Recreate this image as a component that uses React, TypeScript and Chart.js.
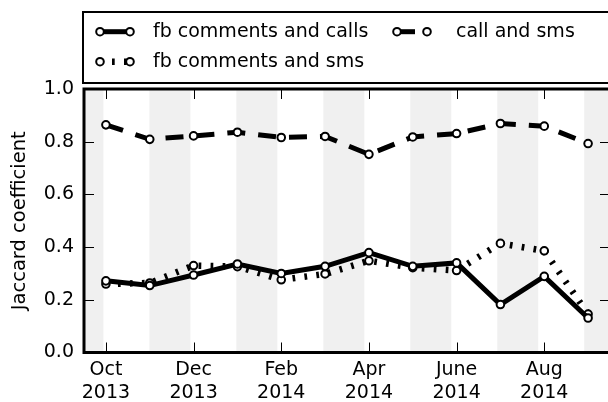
import React, { useEffect, useRef } from "react";
import { Chart, registerables } from "chart.js";

Chart.register(...registerables);

// ---- data ----
const months = [
  "Oct 2013", "Nov 2013", "Dec 2013", "Jan 2014", "Feb 2014", "Mar 2014",
  "Apr 2014", "May 2014", "Jun 2014", "Jul 2014", "Aug 2014", "Sep 2014",
];
const fbCommentsAndCalls = [0.272, 0.254, 0.294, 0.336, 0.300, 0.327, 0.379, 0.327, 0.340, 0.182, 0.289, 0.131];
const callAndSms = [0.864, 0.809, 0.822, 0.836, 0.816, 0.820, 0.752, 0.818, 0.831, 0.869, 0.859, 0.793];
const fbCommentsAndSms = [0.260, 0.264, 0.330, 0.326, 0.276, 0.298, 0.348, 0.322, 0.311, 0.414, 0.386, 0.146];

const seriesLabels = ["fb comments and calls", "call and sms", "fb comments and sms"];
const xTickValues = [0, 2, 4, 6, 8, 10];
const xTickLabels = [
  ["Oct", "2013"], ["Dec", "2013"], ["Feb", "2014"],
  ["Apr", "2014"], ["June", "2014"], ["Aug", "2014"],
];
const yTickValues = [0, 0.2, 0.4, 0.6, 0.8, 1.0];
const shadedMonthStarts = [-1, 1, 3, 5, 7, 9, 11];
const yTitle = "Jaccard coefficient";

const FONT = "'DejaVu Sans', sans-serif";

const toPoints = (vals: number[]) => vals.map((v, i) => ({ x: i, y: v }));

const bandsPlugin = {
  id: "bands",
  beforeDatasetsDraw(chart: any) {
    const { ctx, chartArea: a, scales } = chart;
    const x = scales.x;
    ctx.save();
    ctx.beginPath();
    ctx.rect(a.left, a.top, a.right - a.left, a.bottom - a.top);
    ctx.clip();
    ctx.fillStyle = "#f0f0f0";
    for (const k of shadedMonthStarts) {
      const s = k * 0.992;
      const x0 = x.getPixelForValue(s);
      const x1 = x.getPixelForValue(s + 0.935);
      ctx.fillRect(x0, a.top, x1 - x0, a.bottom - a.top);
    }
    ctx.restore();
  },
};

const framePlugin = {
  id: "frame",
  afterDraw(chart: any) {
    const { ctx, chartArea: a, scales } = chart;
    const x = scales.x;
    const y = scales.y;
    ctx.save();
    // inward ticks
    ctx.strokeStyle = "#000";
    ctx.lineWidth = 1;
    ctx.setLineDash([]);
    ctx.beginPath();
    for (const v of xTickValues) {
      const px = Math.round(x.getPixelForValue(v)) + 0.5;
      ctx.moveTo(px, a.bottom);
      ctx.lineTo(px, a.bottom - 10);
      ctx.moveTo(px, a.top);
      ctx.lineTo(px, a.top + 10);
    }
    for (const v of yTickValues) {
      const py = Math.round(y.getPixelForValue(v)) + 0.5;
      ctx.moveTo(a.left, py);
      ctx.lineTo(a.left + 10, py);
      ctx.moveTo(a.right, py);
      ctx.lineTo(a.right - 10, py);
    }
    ctx.stroke();
    // spines
    ctx.lineWidth = 3;
    ctx.strokeRect(a.left, a.top, a.right - a.left, a.bottom - a.top);

    // legend
    ctx.fillStyle = "#fff";
    ctx.fillRect(83, 12, 600, 71);
    ctx.lineWidth = 2;
    ctx.strokeStyle = "#000";
    ctx.strokeRect(83, 12, 600, 71);
    const slots = [
      { m1: 100, m2: 130, tx: 153, ty: 31.7 },
      { m1: 397, m2: 427, tx: 456, ty: 31.7 },
      { m1: 100, m2: 130, tx: 153, ty: 61.7 },
    ];
    chart.data.datasets.forEach((ds: any, i: number) => {
      const s = slots[i];
      ctx.save();
      ctx.strokeStyle = "#000";
      ctx.lineWidth = ds.borderWidth;
      ctx.setLineDash(ds.borderDash || []);
      ctx.lineDashOffset = 0;
      ctx.lineCap = "butt";
      ctx.beginPath();
      ctx.moveTo(s.m1, s.ty);
      ctx.lineTo(s.m2, s.ty);
      ctx.stroke();
      ctx.setLineDash([]);
      ctx.lineWidth = ds.pointBorderWidth;
      for (const mx of [s.m1, s.m2]) {
        ctx.beginPath();
        ctx.arc(mx, s.ty, ds.pointRadius, 0, Math.PI * 2);
        ctx.fillStyle = "#fff";
        ctx.fill();
        ctx.stroke();
      }
      ctx.fillStyle = "#000";
      ctx.font = `19px ${FONT}`;
      ctx.textAlign = "left";
      ctx.textBaseline = "middle";
      ctx.fillText(ds.label, s.tx, s.ty);
      ctx.restore();
    });
    ctx.restore();
  },
};

export default function App() {
  const canvasRef = useRef<HTMLCanvasElement | null>(null);

  useEffect(() => {
    if (!canvasRef.current) return;
    const common = {
      borderColor: "#000",
      backgroundColor: "#000",
      pointRadius: 3.8,
      pointBorderWidth: 2,
      pointBackgroundColor: "#fff",
      pointBorderColor: "#000",
      fill: false,
      tension: 0,
      borderCapStyle: "butt" as const,
    };
    const chart = new Chart(canvasRef.current, {
      type: "line",
      data: {
        labels: months,
        datasets: [
          { ...common, label: seriesLabels[0], data: toPoints(fbCommentsAndCalls), borderWidth: 5, borderDash: [] },
          { ...common, label: seriesLabels[1], data: toPoints(callAndSms), borderWidth: 5, borderDash: [18, 13] },
          { ...common, label: seriesLabels[2], data: toPoints(fbCommentsAndSms), borderWidth: 6.5, borderDash: [2.7, 9.3] },
        ],
      },
      options: {
        responsive: false,
        animation: false,
        devicePixelRatio: 1,
        layout: { padding: { top: 89, right: 10, left: 0, bottom: 0 } },
        plugins: { legend: { display: false }, tooltip: { enabled: false } },
        scales: {
          x: {
            type: "linear",
            min: -0.5,
            max: 11.5,
            grid: { display: false, drawTicks: false },
            border: { display: false },
            afterBuildTicks: (s: any) => {
              s.ticks = xTickValues.map((v) => ({ value: v }));
            },
            afterFit: (s: any) => {
              s.height = 49.5;
            },
            ticks: {
              autoSkip: false,
              maxRotation: 0,
              minRotation: 0,
              padding: 6,
              color: "#000",
              font: { family: FONT, size: 19 },
              callback: (v: any) => {
                const i = xTickValues.indexOf(Number(v));
                return i >= 0 ? xTickLabels[i] : "";
              },
            },
          },
          y: {
            type: "linear",
            min: 0,
            max: 1,
            grid: { display: false, drawTicks: false },
            border: { display: false },
            afterBuildTicks: (s: any) => {
              s.ticks = yTickValues.map((v) => ({ value: v }));
            },
            afterFit: (s: any) => {
              s.width = 84;
            },
            ticks: {
              padding: 10,
              color: "#000",
              font: { family: FONT, size: 19 },
              callback: (v: any) => Number(v).toFixed(1),
            },
            title: {
              display: true,
              text: yTitle,
              color: "#000",
              font: { family: FONT, size: 19.5 },
              padding: { top: 8, bottom: 0 },
            },
          },
        },
      },
      plugins: [bandsPlugin, framePlugin],
    } as any);
    return () => chart.destroy();
  }, []);

  return (
    <div
      style={{
        position: "fixed",
        left: 0,
        top: 0,
        width: 608,
        height: 402,
        overflow: "hidden",
        background: "#fff",
      }}
    >
      <canvas
        ref={canvasRef}
        width={620}
        height={402}
        style={{ display: "block", width: 620, height: 402 }}
      />
    </div>
  );
}
